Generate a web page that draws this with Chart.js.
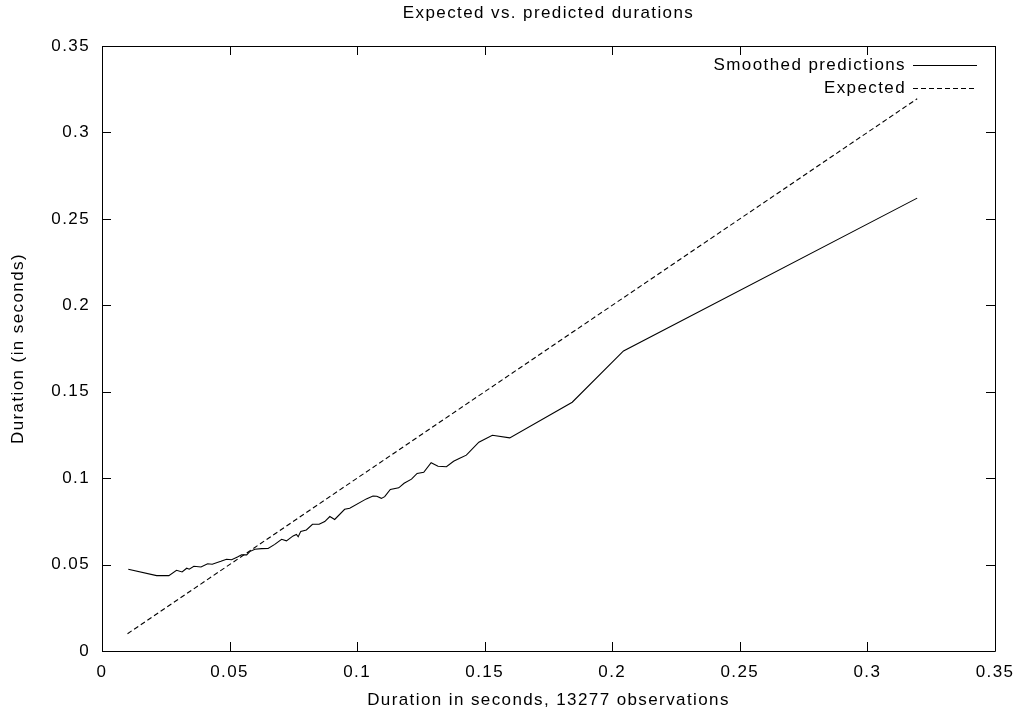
<!DOCTYPE html>
<html>
<head>
<meta charset="utf-8">
<title>Expected vs. predicted durations</title>
<script src="https://cdn.jsdelivr.net/npm/chart.js@4.4.1/dist/chart.umd.min.js"></script>
<style>
  html, body { margin: 0; padding: 0; background: #fff; }
  #wrap { width: 1029px; height: 714px; }
</style>
</head>
<body>
<div id="wrap"><canvas id="durations" width="1029" height="714"></canvas></div>
<script>
// tick values on both axes
var X_TICKS = [0, 0.05, 0.1, 0.15, 0.2, 0.25, 0.3, 0.35];
var Y_TICKS = [0, 0.05, 0.1, 0.15, 0.2, 0.25, 0.3, 0.35];

// smoothed predictions (observed duration -> predicted duration)
var SMOOTH_X = [0.0103, 0.0214, 0.0262, 0.0292, 0.0314, 0.0332, 0.0342, 0.0360, 0.0388, 0.0414,
                0.0432, 0.0466, 0.0488, 0.0508, 0.0531, 0.0547, 0.0567, 0.0579, 0.0599, 0.0625,
                0.0651, 0.0677, 0.0704, 0.0723, 0.0749, 0.0762, 0.0769, 0.0779, 0.0801, 0.0825,
                0.0851, 0.0873, 0.0893, 0.0912, 0.0951, 0.0971, 0.1036, 0.1062, 0.1077, 0.1095,
                0.1108, 0.1130, 0.1163, 0.1184, 0.1213, 0.1235, 0.1261, 0.1290, 0.1317, 0.1350,
                0.1378, 0.1402, 0.1428, 0.1477, 0.1530, 0.1598, 0.1843, 0.2044, 0.3195];
var SMOOTH_Y = [0.0473, 0.0436, 0.0436, 0.0467, 0.0457, 0.0479, 0.0473, 0.0490, 0.0486, 0.0505,
                0.0502, 0.0519, 0.0531, 0.0528, 0.0544, 0.0557, 0.0556, 0.0575, 0.0589, 0.0592,
                0.0593, 0.0617, 0.0646, 0.0637, 0.0666, 0.0674, 0.0661, 0.0692, 0.0700, 0.0733,
                0.0733, 0.0749, 0.0778, 0.0761, 0.0820, 0.0826, 0.0880, 0.0897, 0.0895, 0.0883,
                0.0893, 0.0935, 0.0944, 0.0970, 0.0994, 0.1027, 0.1034, 0.1089, 0.1069, 0.1066,
                0.1098, 0.1115, 0.1133, 0.1208, 0.1248, 0.1233, 0.1439, 0.1736, 0.2620];

// expected: prediction equals observation
var EXPECTED_X = [0.0100, 0.3195];
var EXPECTED_Y = [0.0100, 0.3195];

var TITLE = 'Expected vs. predicted durations';
var X_LABEL = 'Duration in seconds, 13277 observations';
var Y_LABEL = 'Duration (in seconds)';
var SERIES_NAMES = ['Smoothed predictions', 'Expected'];

function pairs(xs, ys) {
  return xs.map(function (x, i) { return { x: x, y: ys[i] }; });
}

var FONT = { family: '"Liberation Sans", Arial, Helvetica, sans-serif', size: 17 };
var SPACING = '1.4px';

// gnuplot-like frame: border, inward ticks on all four sides, title and key
var gnuplotFrame = {
  id: 'gnuplotFrame',
  beforeLayout: function (chart) { chart.ctx.letterSpacing = SPACING; },
  beforeDraw: function (chart) { chart.ctx.letterSpacing = SPACING; },
  afterDraw: function (chart) {
    var ctx = chart.ctx;
    var a = chart.chartArea;
    var xs = chart.scales.x, ys = chart.scales.y;
    var tl = 9;
    ctx.save();
    ctx.strokeStyle = '#000';
    ctx.lineWidth = 1;
    ctx.setLineDash([]);
    ctx.beginPath();
    ctx.rect(a.left + 0.5, a.top + 0.5, a.right - a.left, a.bottom - a.top);
    X_TICKS.forEach(function (v) {
      var px = Math.round(xs.getPixelForValue(v)) + 0.5;
      ctx.moveTo(px, a.bottom); ctx.lineTo(px, a.bottom - tl);
      ctx.moveTo(px, a.top); ctx.lineTo(px, a.top + tl);
    });
    Y_TICKS.forEach(function (v) {
      var py = Math.round(ys.getPixelForValue(v)) + 0.5;
      ctx.moveTo(a.left, py); ctx.lineTo(a.left + tl, py);
      ctx.moveTo(a.right, py); ctx.lineTo(a.right - tl, py);
    });
    ctx.stroke();

    ctx.fillStyle = '#000';
    ctx.font = FONT.size + 'px ' + FONT.family;
    ctx.letterSpacing = SPACING;
    ctx.textBaseline = 'middle';
    ctx.textAlign = 'center';
    ctx.fillText(TITLE, (a.left + a.right) / 2, 13);

    // key, top right inside the frame
    var keyTextX = 906, keySampleL = 913, keySampleR = 977;
    var rowY = [65, 88];
    chart.data.datasets.forEach(function (ds, i) {
      ctx.textAlign = 'right';
      ctx.fillText(ds.label, keyTextX, rowY[i]);
      ctx.beginPath();
      ctx.setLineDash(ds.borderDash || []);
      ctx.lineWidth = ds.borderWidth;
      ctx.moveTo(keySampleL, rowY[i] + 0.5);
      ctx.lineTo(keySampleR, rowY[i] + 0.5);
      ctx.stroke();
    });
    ctx.restore();
  }
};

new Chart(document.getElementById('durations'), {
  type: 'line',
  data: {
    datasets: [
      {
        label: SERIES_NAMES[0],
        data: pairs(SMOOTH_X, SMOOTH_Y),
        borderColor: '#000',
        borderWidth: 1.1,
        pointRadius: 0,
        tension: 0,
        fill: false
      },
      {
        label: SERIES_NAMES[1],
        data: pairs(EXPECTED_X, EXPECTED_Y),
        borderColor: '#000',
        borderWidth: 1.1,
        borderDash: [5, 3],
        pointRadius: 0,
        tension: 0,
        fill: false
      }
    ]
  },
  options: {
    responsive: false,
    animation: false,
    devicePixelRatio: 1,
    layout: { padding: { top: 46, right: 34, bottom: 0, left: 0 } },
    plugins: {
      legend: { display: false },
      title: { display: false },
      tooltip: { enabled: false }
    },
    scales: {
      x: {
        type: 'linear',
        min: 0,
        max: 0.35,
        grid: { display: false, drawTicks: false },
        border: { display: false },
        afterBuildTicks: function (s) { s.ticks = X_TICKS.map(function (v) { return { value: v }; }); },
        afterFit: function (s) { s.height = 63; },
        ticks: {
          color: '#000',
          font: FONT,
          padding: 11,
          maxRotation: 0,
          callback: function (v) { return String(v); }
        },
        title: { display: true, text: X_LABEL, color: '#000', font: FONT, padding: { top: 0, bottom: 3 } }
      },
      y: {
        type: 'linear',
        min: 0,
        max: 0.35,
        grid: { display: false, drawTicks: false },
        border: { display: false },
        afterBuildTicks: function (s) { s.ticks = Y_TICKS.map(function (v) { return { value: v }; }); },
        afterFit: function (s) { s.width = 102; },
        ticks: {
          color: '#000',
          font: FONT,
          padding: 12,
          callback: function (v) { return String(v); }
        },
        title: { display: true, text: Y_LABEL, color: '#000', font: FONT, padding: { top: 8, bottom: 0 } }
      }
    }
  },
  plugins: [gnuplotFrame]
});
</script>
</body>
</html>
